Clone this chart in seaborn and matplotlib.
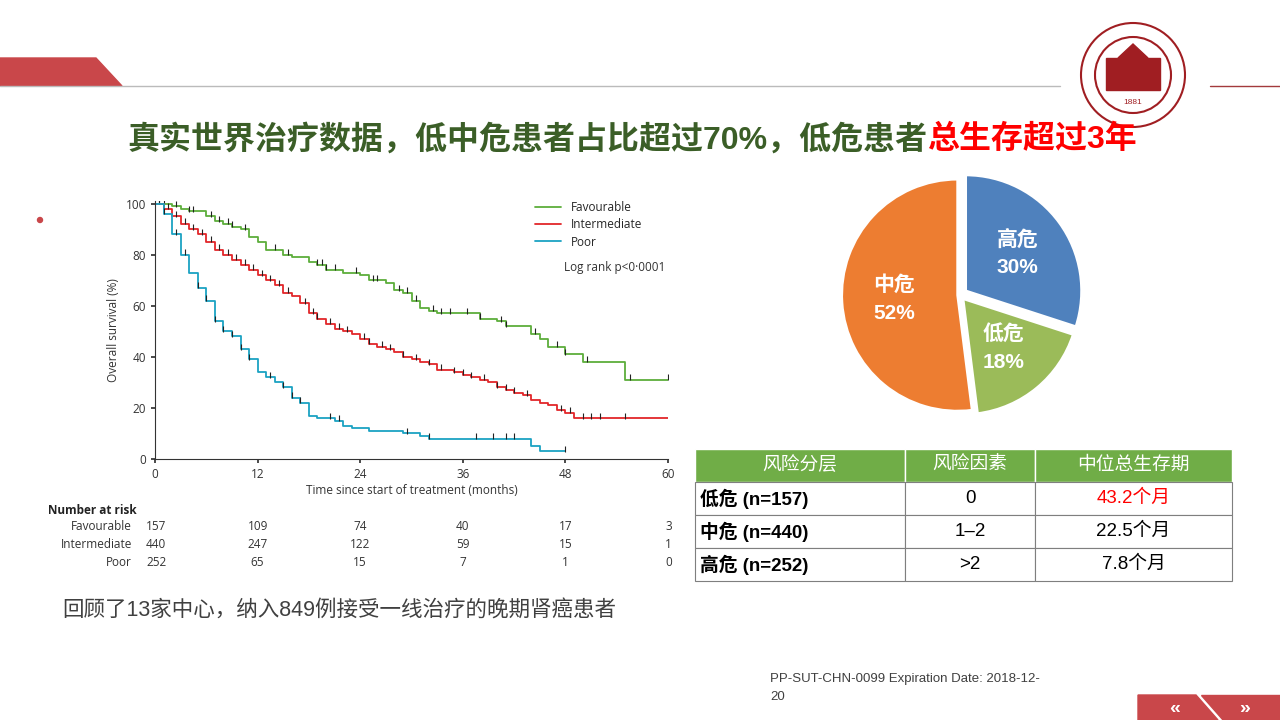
import numpy as np
import pandas as pd
import matplotlib.pyplot as plt
import seaborn as sns
from matplotlib.patches import Polygon, Circle, Rectangle

# ---- data ----
fav_t = [0, 1, 2, 3, 4, 5, 6, 7, 8, 9, 10, 11, 12, 13, 15, 16, 18, 19, 20, 22, 24, 25, 27, 28, 29,
         30, 31, 32, 33, 38, 40, 41, 44, 45, 46, 48, 50, 55, 60]
fav_s = [100, 100, 99, 98, 97, 97, 95, 93, 92, 91, 90, 87, 85, 82, 80, 79, 77, 76, 74, 73, 72, 70, 69, 66, 65,
         62, 59, 58, 57, 55, 54, 52, 49, 47, 44, 41, 38, 31, 31]
int_t = [0, 1, 2, 3, 4, 5, 6, 7, 8, 9, 10, 11, 12, 13, 14, 15, 16, 17, 18, 19, 20, 21, 22, 23, 24, 25, 26,
         27, 28, 29, 30, 31, 32, 33, 35, 36, 37, 38, 39, 40, 41, 42, 43, 44, 45, 46, 47, 48, 49, 60]
int_s = [100, 98, 95, 92, 90, 88, 85, 82, 80, 78, 76, 74, 72, 70, 68, 65, 64, 61, 57, 55, 53, 51, 50, 49, 47,
         45, 44, 43, 42, 40, 39, 38, 37, 35, 34, 33, 32, 31, 30, 28, 27, 26, 25, 23, 22, 21, 19, 18, 16, 16]
poor_t = [0, 1, 2, 3, 4, 5, 6, 7, 8, 9, 10, 11, 12, 13, 14, 15, 16, 17, 18, 19, 21, 22, 23, 25, 29, 31, 32,
          44, 45, 48]
poor_s = [100, 96, 88, 80, 73, 67, 62, 54, 50, 48, 43, 39, 34, 32, 30, 28, 24, 22, 17, 16, 15, 13, 12, 11,
          10, 9, 8, 5, 3, 3]
fav_cens = [0.5, 1, 2.5, 4, 4.5, 6.5, 7.5, 8.5, 9, 10.5, 14, 15.5, 19, 19.5, 20, 21, 23.5, 25.5, 26, 28.5,
            29.5, 30.5, 32.5, 33.5, 34.5, 36.5, 38, 40.5, 41, 44.5, 47, 48, 50.5, 55.5, 60]
int_cens = [0.5, 1.5, 2.5, 3.5, 4.5, 5.5, 6.5, 7.5, 8.5, 9.5, 10.5, 11.5, 12.5, 13.5, 14.5, 15.5, 17.5,
            18.5, 19, 20.5, 21.5, 22.5, 24.5, 25, 26.5, 27.5, 29, 30.5, 32, 33.5, 35, 36, 37, 38.5,
            40, 41, 42, 43.5, 47.5, 48.5, 50, 51, 52, 55]
poor_cens = [1, 2.5, 3.5, 5, 6, 7, 8, 9, 10, 11, 13.5, 15, 16, 17, 20.5, 21.5, 29.5, 32, 37.5, 39.5,
             41, 42, 48]
risk_times = [0, 12, 24, 36, 48, 60]
risk_fav = [157, 109, 74, 40, 17, 3]
risk_int = [440, 247, 122, 59, 15, 1]
risk_poor = [252, 65, 15, 7, 1, 0]

pie_labels = ['高危\n30%', '低危\n18%', '中危\n52%']
pie_vals = [30, 18, 52]
pie_colors = ['#4F81BD', '#9BBB59', '#ED7D31']

tbl_header = ['风险分层', '风险因素', '中位总生存期']
tbl_group = ['低危 (n=157)', '中危 (n=440)', '高危 (n=252)']
tbl_factor = ['0', '1–2', '>2']
tbl_os = ['43.2个月', '22.5个月', '7.8个月']

sns.set_theme(style='white')
plt.rcParams['font.family'] = ['Liberation Sans', 'Noto Sans CJK SC', 'DejaVu Sans']
KM_FONT = ['Open Sans', 'DejaVu Sans']

fig = plt.figure(figsize=(12.8, 7.2), dpi=100)
W, H = 1280, 720


def fx(px):
    return px / W


def fy(py):
    return 1 - py / H


# ---- background decorations ----
bg = fig.add_axes([0, 0, 1, 1])
bg.set_xlim(0, W)
bg.set_ylim(H, 0)
bg.axis('off')
bg.add_patch(Polygon([[0, 58], [96, 58], [122, 86], [0, 86]], color='#C9474A'))
bg.plot([0, 1060], [86, 86], color='#BBBBBB', lw=1)
bg.plot([1210, 1280], [86, 86], color='#A33A3C', lw=1)
bg.add_patch(Circle((1133, 75), 52, facecolor='white', edgecolor='#A01E22', lw=1.5))
bg.add_patch(Circle((1133, 75), 38, facecolor='white', edgecolor='#A01E22', lw=1.5))
bg.add_patch(Rectangle((1106, 58), 54, 32, color='#A01E22'))
bg.add_patch(Polygon([[1118, 58], [1133, 44], [1148, 58]], color='#A01E22'))
bg.text(1133, 102, '1881', color='#A01E22', fontsize=6, ha='center', va='center')
bg.add_patch(Circle((40, 220), 2.5, color='#C9474A'))
bg.add_patch(Polygon([[1138, 695], [1196, 695], [1218, 720], [1138, 720]], color='#C9474A'))
bg.add_patch(Polygon([[1201, 695], [1280, 695], [1280, 720], [1223, 720]], color='#C9474A'))
bg.text(1175, 708, '«', color='white', fontsize=14, ha='center', va='center', fontweight='bold')
bg.text(1245, 708, '»', color='white', fontsize=14, ha='center', va='center', fontweight='bold')

# ---- title ----
t2 = bg.text(1137, 140, '总生存超过3年', color='#FF0000', fontsize=23, fontweight='bold',
             ha='right', va='center')
fig.canvas.draw()
ext = t2.get_window_extent()
bg.text(ext.x0, 140, '真实世界治疗数据，低中危患者占比超过70%，低危患者', color='#3B5E27',
        fontsize=23, fontweight='bold', ha='right', va='center')

bg.text(62, 611, '回顾了13家中心，纳入849例接受一线治疗的晚期肾癌患者', color='#404040',
        fontsize=15.5, va='center')
bg.text(770, 679, 'PP-SUT-CHN-0099 Expiration Date: 2018-12-', color='#404040', fontsize=9.5,
        va='center')
bg.text(770, 697, '20', color='#404040', fontsize=9.5, va='center')

# ---- KM plot ----
ax = fig.add_axes([fx(155), fy(459), fx(668 - 155), (459 - 201) / H])
groups = [('Favourable', fav_t, fav_s, fav_cens, '#5DAE3B'),
          ('Intermediate', int_t, int_s, int_cens, '#E2262A'),
          ('Poor', poor_t, poor_s, poor_cens, '#1BA2C3')]
for name, t, s, cens, col in groups:
    df = pd.DataFrame({'t': t, 's': s})
    sns.lineplot(data=df, x='t', y='s', ax=ax, drawstyle='steps-post', color=col, lw=1.3,
                 label=name, estimator=None)
    idx = np.searchsorted(t, cens, side='right') - 1
    ax.plot(cens, np.array(s)[idx] + 1, ls='none', marker='|', ms=5, mew=0.8, color='#222222')
ax.set_xlim(0, 60)
ax.set_ylim(0, 101)
ax.set_xticks(risk_times)
ax.set_yticks([0, 20, 40, 60, 80, 100])
ax.tick_params(labelsize=8.5, colors='#333333', length=3, direction='out', bottom=True, left=True)
for lab in ax.get_xticklabels() + ax.get_yticklabels():
    lab.set_family(KM_FONT)
for side in ['top', 'right']:
    ax.spines[side].set_visible(False)
for side in ['left', 'bottom']:
    ax.spines[side].set_color('#333333')
    ax.spines[side].set_linewidth(0.8)
ax.set_xlabel('Time since start of treatment (months)', fontsize=8.5, color='#333333', labelpad=2,
              family=KM_FONT)
ax.set_ylabel('Overall survival (%)', fontsize=8.5, color='#333333', family=KM_FONT)
ax.legend(loc='upper left', bbox_to_anchor=(0.72, 1.04), frameon=False,
          prop={'family': KM_FONT, 'size': 8.5}, handlelength=2.2, labelspacing=0.35)
ax.text(0.798, 0.73, 'Log rank p<0·0001', transform=ax.transAxes, fontsize=8.5, color='#333333',
        family=KM_FONT)

# number at risk
bg.text(48, 510, 'Number at risk', fontsize=8.5, fontweight='bold', color='#222222', va='center',
        family=KM_FONT)
for ypx, name, vals in [(527, 'Favourable', risk_fav), (545, 'Intermediate', risk_int),
                        (562, 'Poor', risk_poor)]:
    bg.text(132, ypx, name, fontsize=8.5, color='#333333', ha='right', va='center', family=KM_FONT)
    for tt, v in zip(risk_times, vals):
        xp = 155 + tt / 60 * 513
        bg.text(xp - 9 if tt == 0 else (xp + 4 if tt == 60 else xp), ypx, str(v), fontsize=8.5,
                color='#333333', ha='left' if tt == 0 else ('right' if tt == 60 else 'center'),
                va='center', family=KM_FONT)

# ---- pie ----
pax = fig.add_axes([fx(800), fy(440), fx(320), 290 / H])
wedges, texts = pax.pie(pie_vals, colors=pie_colors, startangle=90, counterclock=False,
                        explode=[0.06, 0.04, 0.02], labels=pie_labels, labeldistance=0.55,
                        wedgeprops=dict(edgecolor='white', linewidth=2),
                        textprops=dict(color='white', fontsize=15, fontweight='bold',
                                       ha='center', va='center', linespacing=1.6))
pax.set_aspect('equal')

# ---- table ----
cols = [695, 905, 1035, 1232]
rows = [449, 482, 515, 548, 581]
for r in range(4):
    for c in range(3):
        x0, x1 = cols[c], cols[c + 1]
        y0, y1 = rows[r], rows[r + 1]
        if r == 0:
            bg.add_patch(Rectangle((x0, y0), x1 - x0, y1 - y0, facecolor='#70AD47',
                                   edgecolor='white', lw=1))
            bg.text((x0 + x1) / 2, (y0 + y1) / 2, tbl_header[c], color='white', fontsize=13.5,
                    ha='center', va='center')
        else:
            bg.add_patch(Rectangle((x0, y0), x1 - x0, y1 - y0, facecolor='white',
                                   edgecolor='#7F7F7F', lw=0.8))
            if c == 0:
                bg.text(x0 + 5, (y0 + y1) / 2, tbl_group[r - 1], color='black', fontsize=13.5,
                        fontweight='bold', ha='left', va='center')
            elif c == 1:
                bg.text((x0 + x1) / 2, (y0 + y1) / 2, tbl_factor[r - 1], color='black',
                        fontsize=13.5, ha='center', va='center')
            else:
                bg.text((x0 + x1) / 2, (y0 + y1) / 2, tbl_os[r - 1],
                        color='#FF0000' if r == 1 else 'black', fontsize=13.5,
                        ha='center', va='center')

fig.savefig('out.png', dpi=100)
